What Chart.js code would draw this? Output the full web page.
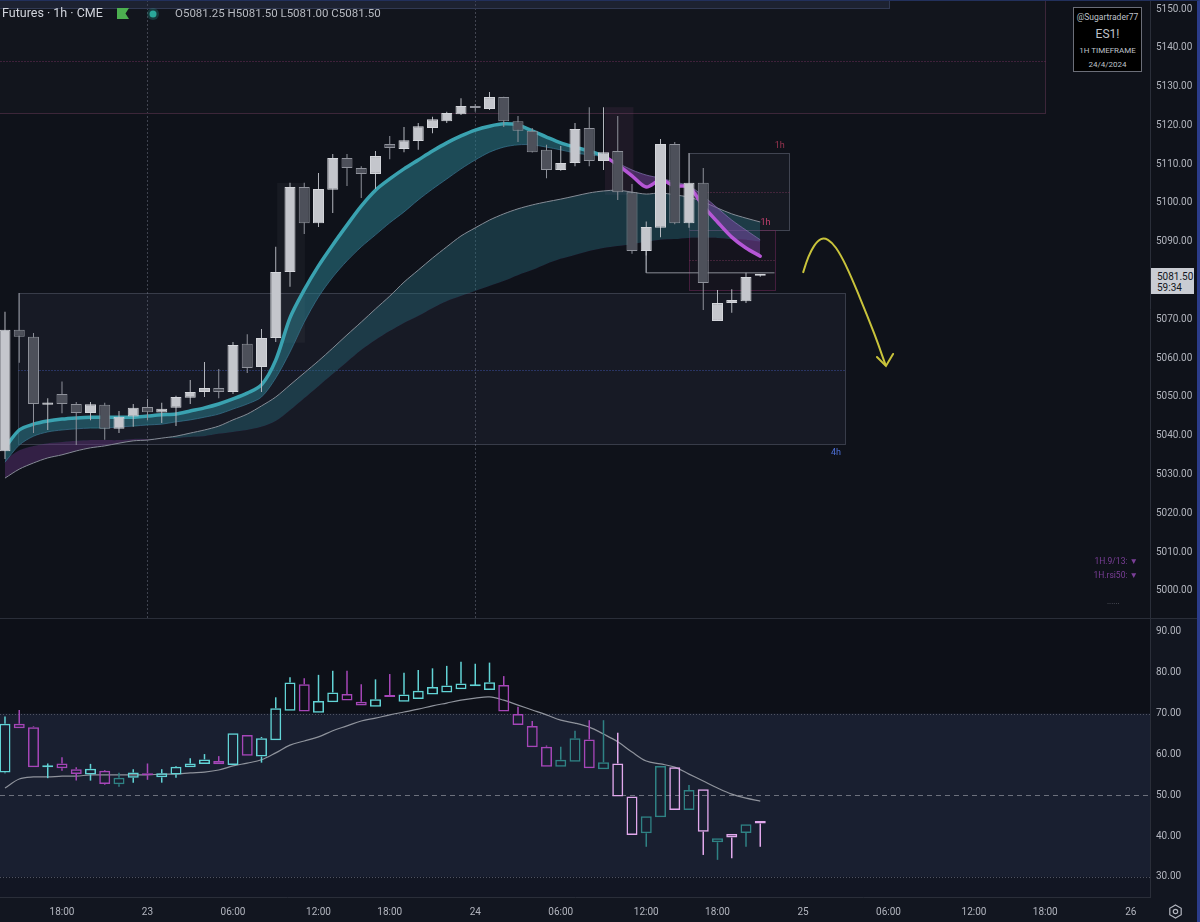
<!DOCTYPE html>
<html>
<head>
<meta charset="utf-8">
<title>ES1! 1h</title>
<script src="https://cdn.jsdelivr.net/npm/chart.js@4.4.1/dist/chart.umd.min.js"></script>
<style>
  html, body { margin: 0; padding: 0; background: #0f121a; }
  #wrap { position: relative; width: 1200px; height: 922px; overflow: hidden; background: #0f121a; font-family: Roboto, 'Noto Sans', sans-serif; }
  canvas { position: absolute; left: 0; }
  #price { top: 0; }
  #rsi { top: 618px; }
  .t { position: absolute; white-space: nowrap; line-height: 1; }
  #frame { position: absolute; left: 0; top: 0; width: 1197px; height: 921px; border-top: 1px solid #22305c; border-right: 3px solid #2b3c8a; pointer-events: none; }
  #wm { position: absolute; left: 1073px; top: 7px; width: 67px; height: 63px; background: #000; border: 1px solid #6b6e78; color: #bfc2c9; text-align: center; }
  #wm div { position: absolute; left: 0; width: 100%; line-height: 1; }
  #last { position: absolute; left: 1151px; top: 268px; width: 43px; height: 26px; background: #c9ccd3; color: #131722; font-size: 10px; }
  #last div { position: absolute; left: 6px; line-height: 1; }
  .sig { position: absolute; right: 62px; font-size: 8.5px; color: #7b3f98; white-space: nowrap; line-height: 1; }
</style>
</head>
<body>
<div id="wrap">
  <canvas id="price" width="1200" height="618"></canvas>
  <canvas id="rsi" width="1200" height="304"></canvas>

  <div class="t" style="left:2px;top:7px;font-size:12.5px;color:#d1d4dc">Futures · 1h · CME</div>
  <svg style="position:absolute;left:117px;top:8px" width="12" height="11"><path d="M0 0H12L8.5 5.5L12 11H0Z" fill="#4caf50"/></svg>
  <svg style="position:absolute;left:146px;top:7px" width="14" height="14"><circle cx="7" cy="7" r="6" fill="rgba(38,166,154,0.25)"/><circle cx="7" cy="7" r="3.5" fill="#2aa89a"/></svg>
  <div class="t" style="left:175px;top:8px;font-size:11.5px;color:#b7bac1">O5081.25 H5081.50 L5081.00 C5081.50</div>

  <div id="wm">
    <div style="top:5px;font-size:8.5px">@Sugartrader77</div>
    <div style="top:20px;font-size:12px">ES1!</div>
    <div style="top:39px;font-size:8px">1H TIMEFRAME</div>
    <div style="top:53px;font-size:8px">24/4/2024</div>
  </div>

  <div id="last"><div style="top:4px">5081.50</div><div style="top:15px">59:34</div></div>

  <div class="sig" style="top:557px">1H.9/13: ▼</div>
  <div class="sig" style="top:571px">1H.rsi50: ▼</div>
  <div class="t" style="left:1107px;top:598px;font-size:8px;color:#5d606b">......</div>

  <svg style="position:absolute;left:1168px;top:904px" width="15" height="15"><path d="M7.5 1L13.2 4.25V10.75L7.5 14L1.8 10.75V4.25Z" fill="none" stroke="#b2b5be" stroke-width="1.2"/><circle cx="7.5" cy="7.5" r="2.2" fill="none" stroke="#b2b5be" stroke-width="1.2"/></svg>

  <div id="frame"></div>
</div>
<script>
Chart.defaults.font.family = "Roboto, 'Noto Sans', sans-serif";
Chart.defaults.color = '#b2b5be';

// time axis: one slot per 1h bar (the 17:00 break has no slot)
const tickSlots = [4, 10, 16, 22, 27, 33, 39, 45, 50, 56, 62, 68, 73, 79];
const tickText = ['18:00', '23', '06:00', '12:00', '18:00', '24', '06:00', '12:00', '18:00', '25', '06:00', '12:00', '18:00', '26'];
const daySlots = [10, 33];

// ES1! 1h candles, from 22 Apr 13:00
const priceOpen = [5036, 5067.3, 5065.5, 5048, 5050.8, 5048.2, 5045.9, 5048, 5041.8, 5045,
  5047.4, 5046, 5047.2, 5049.8, 5051.3, 5052.3, 5051.3, 5063.7, 5057.7, 5065.2,
  5082.2, 5104.1, 5094.8, 5103.4, 5111.6, 5109, 5107.5, 5115.2, 5113.9, 5116,
  5119.3, 5121.1, 5122.9, 5125, 5124.2, 5127.3, 5121.1, 5118.6, 5113.7, 5108.5,
  5110.3, 5119.3, 5110.8, 5113.4, 5102.8, 5087.6, 5093.6, 5115.2, 5094.8, 5105.2,
  5069.6, 5074.2, 5074.7, 5081.25];
const priceHigh = [5072, 5076.8, 5066.5, 5049.7, 5054, 5048.7, 5048.7, 5048.5, 5046.4, 5048.2,
  5049.5, 5048.5, 5050.3, 5054.4, 5059, 5057.2, 5064.2, 5066.2, 5067.5, 5088.7,
  5105.2, 5105.2, 5107.7, 5112.6, 5112.6, 5109.5, 5113.4, 5117.3, 5119.6, 5120.6,
  5122.2, 5123.5, 5127, 5125.5, 5128.6, 5127.4, 5122.4, 5119.3, 5115, 5114.7,
  5120.6, 5124.7, 5124.7, 5122.4, 5104.9, 5095.2, 5116.5, 5115.7, 5112.9, 5109,
  5077.6, 5077.8, 5082, 5081.5];
const priceLow = [5034, 5058.8, 5040.7, 5041.5, 5045.8, 5037.6, 5044, 5039, 5040.7, 5042.3,
  5044, 5043.3, 5042.5, 5048.2, 5050, 5049.7, 5050.8, 5056.2, 5051.3, 5064.2,
  5078.4, 5092, 5093.8, 5097.4, 5104.4, 5101.3, 5103.6, 5111.3, 5113.1, 5113.7,
  5118, 5120.6, 5122.7, 5123.5, 5124, 5119.6, 5115.7, 5113, 5106.4, 5108.3,
  5109.5, 5109.5, 5108.5, 5100.8, 5086.9, 5086.5, 5091.2, 5094.5, 5093.6, 5072.4,
  5069.6, 5071.7, 5074.2, 5081.0];
const priceClose = [5067.3, 5065.5, 5048.2, 5048.6, 5048.2, 5045.9, 5048.1, 5041.8, 5044.9, 5047.2,
  5046.1, 5047, 5050, 5051.3, 5052.3, 5051.3, 5063.4, 5057.5, 5065.2, 5082.2,
  5104.1, 5094.8, 5103.6, 5111.6, 5109, 5107.5, 5112.1, 5114.2, 5116.2, 5119.8,
  5121.6, 5123.2, 5125, 5124.5, 5127.3, 5121.1, 5118.6, 5113.1, 5108.5, 5110.3,
  5119.1, 5110.8, 5113.1, 5102.8, 5087.6, 5093.8, 5115.2, 5094.8, 5105.2, 5079.4,
  5074.2, 5075, 5080.9, 5081.5];

// EMA ribbons (fast 9/13, slow pair)
const ema9 = [5036.9, 5041.5, 5043.0, 5043.8, 5044.3, 5044.6, 5044.8, 5044.8, 5044.8, 5044.8,
  5045.1, 5045.4, 5045.6, 5046.4, 5047.2, 5048.2, 5049.5, 5051.0, 5053.1, 5059.5,
  5070.4, 5077.6, 5083.8, 5089.2, 5094.3, 5099.2, 5103.3, 5106.2, 5108.8, 5111.1,
  5113.4, 5115.5, 5117.3, 5118.8, 5119.8, 5120.4, 5120.1, 5118.6, 5117.0, 5115.5,
  5114.4, 5113.4, 5112.1, 5109.8, 5107.0, 5104.1, 5105.9, 5104.4, 5104.1, 5099.2,
  5095.1, 5091.2, 5088.4, 5086.3];
const ema13 = [5033.2, 5037.6, 5039.9, 5041.0, 5041.5, 5041.8, 5042.0, 5042.0, 5042.3, 5042.5,
  5042.8, 5043.0, 5043.6, 5044.1, 5044.8, 5045.6, 5046.9, 5048.2, 5050.0, 5054.9,
  5061.6, 5069.3, 5075.8, 5080.9, 5085.1, 5088.7, 5091.8, 5094.9, 5097.7, 5100.8,
  5103.6, 5106.2, 5108.8, 5111.1, 5113.1, 5114.4, 5115.0, 5115.0, 5114.4, 5113.7,
  5112.9, 5112.4, 5111.9, 5110.3, 5108.5, 5107.2, 5106.4, 5105.4, 5104.4, 5101.8,
  5098.7, 5095.6, 5093.0, 5090.5];
const slowA = [5029.1, 5031.4, 5033.0, 5034.3, 5035.1, 5036.1, 5036.9, 5037.4, 5038.1, 5038.7,
  5038.9, 5039.4, 5039.9, 5040.7, 5041.5, 5042.5, 5044.1, 5045.6, 5047.7, 5050.0,
  5053.1, 5056.2, 5059.3, 5062.6, 5066.0, 5069.3, 5072.7, 5076.0, 5079.6, 5082.7,
  5085.8, 5088.7, 5091.5, 5093.6, 5095.6, 5097.2, 5098.5, 5099.5, 5100.3, 5101.0,
  5101.8, 5102.6, 5103.1, 5103.3, 5102.8, 5102.3, 5102.6, 5102.1, 5101.5, 5100.3,
  5098.7, 5097.2, 5096.1, 5095.1];
const slowB = [5033.8, 5036.3, 5037.4, 5038.1, 5038.4, 5038.7, 5038.9, 5038.9, 5038.9, 5039.2,
  5039.2, 5039.4, 5039.4, 5039.7, 5039.9, 5040.5, 5041.0, 5041.5, 5042.3, 5043.8,
  5046.6, 5049.7, 5052.8, 5055.9, 5059.0, 5062.1, 5064.7, 5067.0, 5069.1, 5070.9,
  5072.9, 5074.7, 5076.0, 5077.3, 5078.6, 5079.9, 5081.4, 5082.7, 5084.3, 5085.6,
  5086.6, 5087.6, 5088.4, 5088.9, 5089.4, 5090.0, 5090.5, 5090.7, 5091.0, 5091.0,
  5091.0, 5090.7, 5090.5, 5090.0];

// supply / demand zones (slot from, slot to, price low, price high, dotted mid)
const zoneFrom = [-1, -1, 0.9, 48.0, 48.0];
const zoneTo = [62, 73.0, 58.95, 55.0, 54.0];
const zoneLow = [5150.3, 5123.2, 5037.9, 5093.0, 5077.6];
const zoneHigh = [5170, 5170, 5076.8, 5112.9, 5093.0];
const zoneMid = [null, 5136.6, 5057.0, 5102.8, 5085.3];
const zoneTag = ['', '', '4h', '1h', '1h'];

// highlighted bars
const hlFrom = [19.1, 42.1];
const hlTo = [21.05, 44.1];
const hlLow = [5064.0, 5102.1];
const hlHigh = [5105.2, 5124.7];

// drawn lines
const levelX = [45, 45, 54];
const levelY = [5087.6, 5082.0, 5082.0];
const arrowX = [56.0, 56.35, 56.77, 57.26, 57.75, 58.32, 59.02, 60.0, 60.98, 61.82];
const arrowY = [5082.0, 5085.8, 5088.9, 5090.7, 5090.5, 5088.4, 5083.8, 5075.5, 5066.5, 5058.0];
const headX = [61.19, 61.82, 62.32];
const headY = [5060.3, 5058.0, 5061.1];

// RSI candles + MA
const rsiOpen = [55.6, 67.5, 66.7, 56.9, 57.8, 56.4, 55.1, 56.0, 52.7, 54.3,
  55.4, 54.4, 55.1, 56.9, 57.7, 58.4, 57.4, 64.8, 59.5, 63.5,
  70.7, 77.2, 70.2, 72.8, 74.8, 72.9, 71.7, 74.4, 72.9, 73.6,
  74.7, 75.2, 76.0, 76.7, 75.8, 77.0, 69.9, 67.0, 61.9, 57.0,
  58.2, 63.7, 56.4, 57.8, 49.7, 40.7, 44.6, 56.9, 46.4, 51.5,
  38.5, 40.5, 40.8, 43.7];
const rsiHigh = [69.3, 70.9, 66.9, 57.8, 59.3, 56.9, 57.7, 56.2, 55.5, 56.4,
  57.8, 56.4, 57.2, 59.1, 60.1, 59.6, 65.2, 64.8, 64.3, 74.0,
  78.9, 78.7, 79.5, 80.5, 80.5, 77.2, 78.4, 79.7, 80.0, 80.7,
  81.1, 81.7, 82.7, 82.2, 82.5, 79.2, 71.7, 68.2, 62.2, 61.9,
  65.8, 68.4, 68.4, 65.3, 49.7, 44.9, 57.2, 56.9, 52.5, 51.5,
  39.5, 40.5, 42.9, 43.7];
const rsiLow = [55.4, 66.4, 56.9, 54.2, 56.0, 53.6, 53.6, 52.6, 52.1, 53.1,
  53.8, 53.1, 54.3, 56.9, 57.7, 57.6, 57.4, 59.7, 58.0, 63.5,
  70.7, 70.5, 70.2, 72.8, 73.2, 72.0, 71.7, 74.1, 72.9, 73.6,
  74.7, 75.2, 76.0, 76.7, 75.8, 70.5, 67.2, 61.8, 57.0, 57.0,
  58.2, 56.6, 56.4, 49.7, 40.3, 37.4, 44.6, 46.4, 46.4, 35.4,
  34.2, 34.6, 37.4, 37.4];
const rsiClose = [67.5, 66.4, 56.9, 57.1, 56.6, 55.2, 56.5, 52.8, 54.3, 55.6,
  54.9, 55.4, 57.0, 57.8, 58.8, 57.6, 65.2, 59.7, 64.0, 71.3,
  77.6, 70.5, 73.1, 75.2, 73.2, 72.0, 73.5, 74.1, 74.7, 75.6,
  76.5, 76.9, 77.4, 76.9, 77.7, 70.5, 67.2, 61.8, 57.0, 58.7,
  64.0, 56.6, 58.1, 49.7, 40.3, 44.9, 57.2, 46.4, 51.3, 41.1,
  39.5, 39.7, 42.9, 43.1];
const rsiMa = [51.8, 54.0, 54.5, 54.5, 54.7, 54.7, 55.0, 55.0, 55.0, 55.0,
  55.0, 55.2, 55.2, 55.5, 55.7, 56.2, 57.2, 57.9, 58.7, 60.4,
  62.3, 63.3, 64.3, 65.8, 67.0, 68.2, 68.9, 69.7, 70.4, 71.1,
  71.9, 72.6, 73.3, 73.8, 74.1, 73.3, 72.1, 70.9, 69.7, 68.4,
  67.7, 66.7, 65.0, 63.1, 60.6, 58.4, 57.7, 56.9, 55.2, 53.5,
  51.8, 50.3, 49.3, 48.6];
const rsiLevels = [70, 50, 30];

// colours
const UP_FILL = '#c4c6cc', UP_LINE = '#d4d6db', UP_WICK = '#b3b6bd';
const DN_FILL = '#4d505a', DN_LINE = '#8f929b', DN_WICK = '#8f929b';
const TEAL_LINE = '#3aa2b0', PURPLE_LINE = '#b656d6';
const RSI_UP = '#62d4d6', RSI_UP_WEAK = '#2f8284', RSI_DN = '#a646b8', RSI_DN_WEAK = '#e2a8ec';

const zoneStyle = [
  { fill: 'rgba(52,62,92,0.30)', line: '#2e3650' },
  { fill: 'rgba(255,255,255,0.014)', line: '#3c2639', mid: '#6b2f58' },
  { fill: 'rgba(130,140,170,0.075)', line: 'rgba(125,132,152,0.35)', mid: '#3d4fa0', tag: '#4d6fd6', below: true },
  { fill: 'rgba(140,145,165,0.06)', line: 'rgba(110,115,132,0.5)', mid: '#6e3254', tag: '#9a3450' },
  { fill: 'rgba(80,35,70,0.10)', line: 'rgba(110,40,90,0.55)', mid: '#6e3254', tag: '#c2406e' },
];
const hlStyle = ['rgba(255,255,255,0.035)', 'rgba(170,90,150,0.10)'];

const slots = priceOpen.map((_, i) => i);
const pts = arr => arr.map((v, i) => ({ x: i, y: v }));
const xy = (xs, ys) => xs.map((v, i) => ({ x: v, y: ys[i] }));
const isUp = i => priceClose[i] >= priceOpen[i];

function rsiColor(i) {
  if (rsiClose[i] >= rsiOpen[i]) return rsiClose[i] >= rsiMa[i] ? RSI_UP : RSI_UP_WEAK;
  return rsiClose[i] >= 50 ? RSI_DN : RSI_DN_WEAK;
}

function hLine(ctx, a, py, color, dash) {
  ctx.strokeStyle = color;
  ctx.setLineDash(dash);
  ctx.beginPath();
  ctx.moveTo(a.left, Math.round(py) + 0.5);
  ctx.lineTo(a.right, Math.round(py) + 0.5);
  ctx.stroke();
  ctx.setLineDash([]);
}

// no label padding: the axes must span the whole pane
function fitAxis(size) {
  return s => {
    if (s.isHorizontal()) s.height = size; else s.width = size;
    s.paddingTop = 0; s.paddingBottom = 0; s.paddingLeft = 0; s.paddingRight = 0;
  };
}

const pricePane = {
  id: 'pricePane',
  beforeDraw(chart) {
    const { ctx, width, height } = chart;
    ctx.save();
    ctx.fillStyle = '#0f121a';
    ctx.fillRect(0, 0, width, height);
    ctx.restore();
  },
  beforeDatasetsDraw(chart) {
    const { ctx, chartArea: a, scales: { x, y } } = chart;
    ctx.save();
    ctx.beginPath();
    ctx.rect(a.left, a.top, a.right - a.left, a.bottom - a.top);
    ctx.clip();
    ctx.lineWidth = 1;

    ctx.strokeStyle = '#3f434f';
    ctx.setLineDash([2, 2]);
    daySlots.forEach(s => {
      const px = Math.round(x.getPixelForValue(s)) + 0.5;
      ctx.beginPath(); ctx.moveTo(px, a.top); ctx.lineTo(px, a.bottom); ctx.stroke();
    });
    ctx.setLineDash([]);

    zoneFrom.forEach((f, i) => {
      const st = zoneStyle[i];
      const x0 = Math.round(x.getPixelForValue(f)) + 0.5;
      const x1 = Math.round(x.getPixelForValue(zoneTo[i])) + 0.5;
      const y0 = Math.round(y.getPixelForValue(zoneHigh[i])) + 0.5;
      const y1 = Math.round(y.getPixelForValue(zoneLow[i])) + 0.5;
      ctx.fillStyle = st.fill;
      ctx.fillRect(x0, y0, x1 - x0, y1 - y0);
      ctx.strokeStyle = st.line;
      ctx.strokeRect(x0, y0, x1 - x0, y1 - y0);
      if (zoneMid[i] !== null) {
        const ym = Math.round(y.getPixelForValue(zoneMid[i])) + 0.5;
        ctx.strokeStyle = st.mid;
        ctx.setLineDash([1, 2]);
        ctx.beginPath(); ctx.moveTo(x0, ym); ctx.lineTo(x1, ym); ctx.stroke();
        ctx.setLineDash([]);
      }
    });

    hlFrom.forEach((f, i) => {
      const x0 = x.getPixelForValue(f), x1 = x.getPixelForValue(hlTo[i]);
      const y0 = y.getPixelForValue(hlHigh[i]), y1 = y.getPixelForValue(hlLow[i]);
      ctx.fillStyle = hlStyle[i];
      ctx.fillRect(x0, y0, x1 - x0, y1 - y0);
    });
    ctx.restore();
  },
  afterDatasetsDraw(chart) {
    const { ctx, scales: { x, y } } = chart;
    ctx.save();
    ctx.font = "9px Roboto, 'Noto Sans', sans-serif";
    ctx.textAlign = 'right';
    zoneTag.forEach((tag, i) => {
      if (!tag) return;
      const st = zoneStyle[i];
      ctx.fillStyle = st.tag;
      const px = x.getPixelForValue(zoneTo[i]) - 4;
      if (st.below) {
        ctx.textBaseline = 'top';
        ctx.fillText(tag, px, y.getPixelForValue(zoneLow[i]) + 4);
      } else {
        ctx.textBaseline = 'bottom';
        ctx.fillText(tag, px, y.getPixelForValue(zoneHigh[i]) - 3);
      }
    });
    ctx.restore();
  }
};

const rsiPane = {
  id: 'rsiPane',
  beforeDraw(chart) {
    const { ctx, width, height, chartArea: a, scales: { y } } = chart;
    const y70 = y.getPixelForValue(rsiLevels[0]);
    const y30 = y.getPixelForValue(rsiLevels[2]);
    ctx.save();
    ctx.fillStyle = '#121620';
    ctx.fillRect(0, 0, width, height);
    ctx.fillStyle = '#0d1018';
    ctx.fillRect(a.left, a.top, a.right - a.left, a.bottom - a.top);
    ctx.fillStyle = '#191f30';
    ctx.fillRect(a.left, y70, a.right - a.left, y30 - y70);
    ctx.fillStyle = '#121623';
    ctx.fillRect(a.left, y30, a.right - a.left, a.bottom - y30);
    ctx.restore();
  },
  beforeDatasetsDraw(chart) {
    const { ctx, chartArea: a, scales: { y } } = chart;
    ctx.save();
    ctx.lineWidth = 1;
    hLine(ctx, a, y.getPixelForValue(rsiLevels[0]), '#4f5361', [1, 2]);
    hLine(ctx, a, y.getPixelForValue(rsiLevels[1]), '#6c707c', [5, 4]);
    hLine(ctx, a, y.getPixelForValue(rsiLevels[2]), '#4f5361', [1, 2]);
    ctx.restore();
  },
  afterDraw(chart) {
    const { ctx, width } = chart;
    ctx.save();
    ctx.fillStyle = '#2a2e39';
    ctx.fillRect(0, 0, width, 1);
    ctx.restore();
  }
};

const xRange = { type: 'linear', min: -0.35, max: 80.35, offset: false };
const axisFont = { family: "Roboto, 'Noto Sans', sans-serif", size: 10 };

new Chart(document.getElementById('price'), {
  type: 'bar',
  data: {
    datasets: [
      {
        type: 'bar', label: 'body',
        data: slots.map(i => ({ x: i, y: [Math.min(priceOpen[i], priceClose[i]), Math.max(priceOpen[i], priceClose[i])] })),
        backgroundColor: slots.map(i => isUp(i) ? UP_FILL : DN_FILL),
        borderColor: slots.map(i => isUp(i) ? UP_LINE : DN_LINE),
        borderWidth: 1, borderSkipped: false, barThickness: 11, minBarLength: 2,
        grouped: false, inflateAmount: 0, order: 0
      },
      {
        type: 'bar', label: 'wick',
        data: slots.map(i => ({ x: i, y: [priceLow[i], priceHigh[i]] })),
        backgroundColor: slots.map(i => isUp(i) ? UP_WICK : DN_WICK),
        borderWidth: 0, barThickness: 1, grouped: false, inflateAmount: 0, order: 1
      },
      {
        type: 'line', label: 'ema9', data: pts(ema9),
        borderColor: TEAL_LINE, borderWidth: 3.5, borderJoinStyle: 'round', borderCapStyle: 'round',
        pointRadius: 0, tension: 0.3,
        segment: { borderColor: c => ema9[c.p1DataIndex] < ema13[c.p1DataIndex] ? PURPLE_LINE : TEAL_LINE },
        fill: { target: '+1', above: 'rgba(42,122,138,0.55)', below: 'rgba(125,70,165,0.50)' },
        order: 3
      },
      {
        type: 'line', label: 'ema13', data: pts(ema13),
        borderColor: 'rgba(45,115,130,0.8)', borderWidth: 1, pointRadius: 0, tension: 0.3,
        segment: { borderColor: c => ema9[c.p1DataIndex] < ema13[c.p1DataIndex] ? 'rgba(150,125,185,0.7)' : 'rgba(45,115,130,0.8)' },
        order: 4
      },
      {
        type: 'line', label: 'slowA', data: pts(slowA),
        borderColor: '#858b95', borderWidth: 1, pointRadius: 0, tension: 0.3,
        fill: { target: '+1', above: 'rgba(40,110,125,0.40)', below: 'rgba(110,55,140,0.38)' },
        order: 5
      },
      {
        type: 'line', label: 'slowB', data: pts(slowB),
        borderWidth: 0, borderColor: 'rgba(0,0,0,0)', pointRadius: 0, tension: 0.3, order: 6
      },
      {
        type: 'line', label: 'level', data: xy(levelX, levelY),
        borderColor: '#8a8d96', borderWidth: 1, pointRadius: 0, tension: 0, order: 2
      },
      {
        type: 'line', label: 'arrow', data: xy(arrowX, arrowY),
        borderColor: '#c9c33b', borderWidth: 2, pointRadius: 0, tension: 0.4, order: 2
      },
      {
        type: 'line', label: 'arrowHead', data: xy(headX, headY),
        borderColor: '#c9c33b', borderWidth: 2, pointRadius: 0, tension: 0, borderCapStyle: 'round', order: 2
      }
    ]
  },
  options: {
    responsive: false,
    animation: false,
    devicePixelRatio: 1,
    layout: { padding: 0 },
    plugins: { legend: { display: false }, tooltip: { enabled: false } },
    scales: {
      x: { ...xRange, display: false },
      y: {
        position: 'right', min: 4993.04, max: 5152.32, beginAtZero: false,
        afterFit: fitAxis(50),
        grid: { display: false, drawTicks: false },
        border: { display: true, color: '#2a2e39' },
        ticks: { stepSize: 10, includeBounds: false, padding: 6, color: '#b2b5be', font: axisFont, callback: v => v.toFixed(2) }
      }
    }
  },
  plugins: [pricePane]
});

new Chart(document.getElementById('rsi'), {
  type: 'bar',
  data: {
    datasets: [
      {
        type: 'bar', label: 'rsiBody',
        data: slots.map(i => ({ x: i, y: [Math.min(rsiOpen[i], rsiClose[i]), Math.max(rsiOpen[i], rsiClose[i])] })),
        backgroundColor: 'rgba(0,0,0,0)',
        borderColor: slots.map(rsiColor),
        borderWidth: 1.5, borderSkipped: false, barThickness: 11, minBarLength: 2,
        grouped: false, inflateAmount: 0, order: 0
      },
      {
        type: 'bar', label: 'rsiUpperWick',
        data: slots.map(i => ({ x: i, y: [Math.max(rsiOpen[i], rsiClose[i]), rsiHigh[i]] })),
        backgroundColor: slots.map(rsiColor),
        borderWidth: 0, barThickness: 1.5, grouped: false, inflateAmount: 0, order: 1
      },
      {
        type: 'bar', label: 'rsiLowerWick',
        data: slots.map(i => ({ x: i, y: [rsiLow[i], Math.min(rsiOpen[i], rsiClose[i])] })),
        backgroundColor: slots.map(rsiColor),
        borderWidth: 0, barThickness: 1.5, grouped: false, inflateAmount: 0, order: 1
      },
      {
        type: 'line', label: 'rsiMa', data: pts(rsiMa),
        borderColor: '#8f939c', borderWidth: 1.2, pointRadius: 0, tension: 0.35, order: 2
      }
    ]
  },
  options: {
    responsive: false,
    animation: false,
    devicePixelRatio: 1,
    layout: { padding: { top: 1 } },
    plugins: { legend: { display: false }, tooltip: { enabled: false } },
    scales: {
      x: {
        ...xRange,
        afterFit: fitAxis(25),
        afterBuildTicks: s => { s.ticks = tickSlots.map(v => ({ value: v })); },
        grid: { display: false, drawTicks: false },
        border: { display: true, color: '#2a2e39' },
        ticks: {
          autoSkip: false, maxRotation: 0, padding: 9, color: '#b2b5be', font: axisFont,
          callback: v => tickText[tickSlots.indexOf(v)]
        }
      },
      y: {
        position: 'right', min: 25.1, max: 93.18, beginAtZero: false,
        afterFit: fitAxis(50),
        grid: { display: false, drawTicks: false },
        border: { display: true, color: '#2a2e39' },
        ticks: { stepSize: 10, includeBounds: false, padding: 6, color: '#b2b5be', font: axisFont, callback: v => v.toFixed(2) }
      }
    }
  },
  plugins: [rsiPane]
});
</script>
</body>
</html>
